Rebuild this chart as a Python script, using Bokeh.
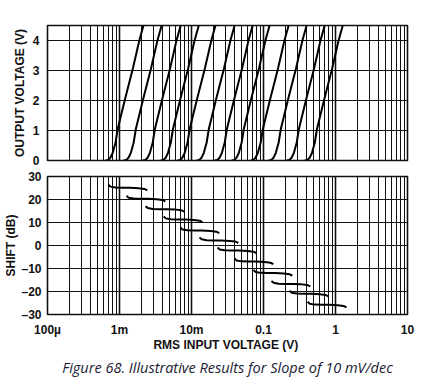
import numpy as np
from bokeh.plotting import figure
from bokeh.layouts import column
from bokeh.models import FixedTicker, Range1d, Title
from bokeh.embed import file_html
from bokeh.resources import INLINE

# ---- data ----
# input voltage (V) at which each transfer curve leaves 0 V
curve_start_v = [7.0e-4, 1.25e-3, 2.3e-3, 4.1e-3, 7.0e-3, 1.29e-2,
                 2.3e-2, 3.95e-2, 7.26e-2, 0.129, 0.23, 0.41]
# one transfer curve: decades above its start vs output voltage
curve_shape_dec = [-0.04, 0.0, 0.03, 0.06, 0.10, 0.13, 0.232, 0.339, 0.43, 0.488, 0.52]
curve_shape_v = [0.0, 0.02, 0.10, 0.25, 0.6, 1.05, 2.05, 3.05, 4.0, 4.5, 4.75]
# shift segments: level of each segment (dB) and common shape
shift_level_db = [25.1, 20.3, 15.8, 11.3, 6.5, 2.2, -2.2, -7.0, -12.0, -16.7, -21.0, -25.8]
shift_shape_dec = [0.0, 0.03, 0.10, 0.20, 0.30, 0.42, 0.50, 0.54]
shift_shape_db = [1.3, 0.5, 0.1, 0.0, 0.0, -0.2, -0.5, -1.1]

x_ticks = [1e-4, 1e-3, 1e-2, 1e-1, 1, 10]
x_tick_labels = ["100µ", "1m", "10m", "0.1", "1", "10"]
top_y_ticks = [0, 1, 2, 3, 4]
bot_y_ticks = [-30, -20, -10, 0, 10, 20, 30]
bot_y_labels = ["–30", "–20", "–10", "0", "10", "20", "30"]

FONT = "Liberation Sans"
minor = [m * d for d in x_ticks[:-1] for m in range(2, 10)]


def style(p):
    p.xaxis.ticker = FixedTicker(ticks=x_ticks, minor_ticks=minor)
    p.xgrid.grid_line_color = "#111111"
    p.xgrid.grid_line_width = 1.6
    p.xgrid.minor_grid_line_color = "#111111"
    p.xgrid.minor_grid_line_width = 1.0
    p.ygrid.grid_line_color = "#111111"
    p.ygrid.grid_line_width = 1.2
    p.outline_line_color = "#111111"
    p.outline_line_width = 1.6
    p.background_fill_color = "white"
    p.border_fill_color = "white"
    for ax in p.axis:
        ax.axis_line_color = None
        ax.major_tick_line_color = None
        ax.minor_tick_line_color = None
        ax.major_tick_out = 0
        ax.minor_tick_out = 0
        ax.major_label_text_font = FONT
        ax.major_label_text_font_style = "bold"
        ax.major_label_text_font_size = "12px"
        ax.major_label_text_color = "#111111"
        ax.axis_label_text_font = FONT
        ax.axis_label_text_font_style = "bold"
        ax.axis_label_text_font_size = "12px"
        ax.axis_label_text_color = "#111111"


top = figure(frame_width=360, frame_height=135, x_axis_type="log",
             x_range=Range1d(1e-4, 10), y_range=Range1d(0, 4.5),
             output_backend="svg", toolbar_location=None,
             min_border_left=47, min_border_right=19,
             min_border_top=25, min_border_bottom=8)
style(top)
top.xaxis.visible = False
top.yaxis.ticker = FixedTicker(ticks=top_y_ticks)
top.yaxis.axis_label = "OUTPUT VOLTAGE (V)"
top.yaxis.major_label_standoff = 8
top.yaxis.axis_label_standoff = 3

for s in curve_start_v:
    xs = [s * 10 ** d for d in curve_shape_dec]
    top.line(xs, curve_shape_v, line_color="black", line_width=2)

bot = figure(frame_width=360, frame_height=138, x_axis_type="log",
             x_range=Range1d(1e-4, 10), y_range=Range1d(-30, 30),
             output_backend="svg", toolbar_location=None,
             min_border_left=47, min_border_right=19,
             min_border_top=8, min_border_bottom=78)
style(bot)
bot.yaxis.ticker = FixedTicker(ticks=bot_y_ticks)
bot.yaxis.major_label_overrides = dict(zip(bot_y_ticks, bot_y_labels))
bot.yaxis.axis_label = "SHIFT (dB)"
bot.yaxis.major_label_standoff = 6
bot.yaxis.axis_label_standoff = 0
bot.xaxis.major_label_overrides = dict(zip(x_ticks, x_tick_labels))
bot.xaxis.axis_label = "RMS INPUT VOLTAGE  (V)"
bot.xaxis.major_label_standoff = 8
bot.xaxis.axis_label_standoff = -2

for s, lvl in zip(curve_start_v, shift_level_db):
    xs = [s * 10 ** d for d in shift_shape_dec]
    ys = [lvl + v for v in shift_shape_db]
    bot.line(xs, ys, line_color="black", line_width=2)

cap = Title(text="Figure 68. Illustrative Results for Slope of 10 mV/dec",
            align="center", text_font="Open Sans", text_font_style="italic",
            text_font_size="14.5px", text_color="#1a1a33", standoff=2)
bot.add_layout(cap, "below")

layout = column(top, bot)
open("out.html", "w").write(file_html(layout, INLINE))
